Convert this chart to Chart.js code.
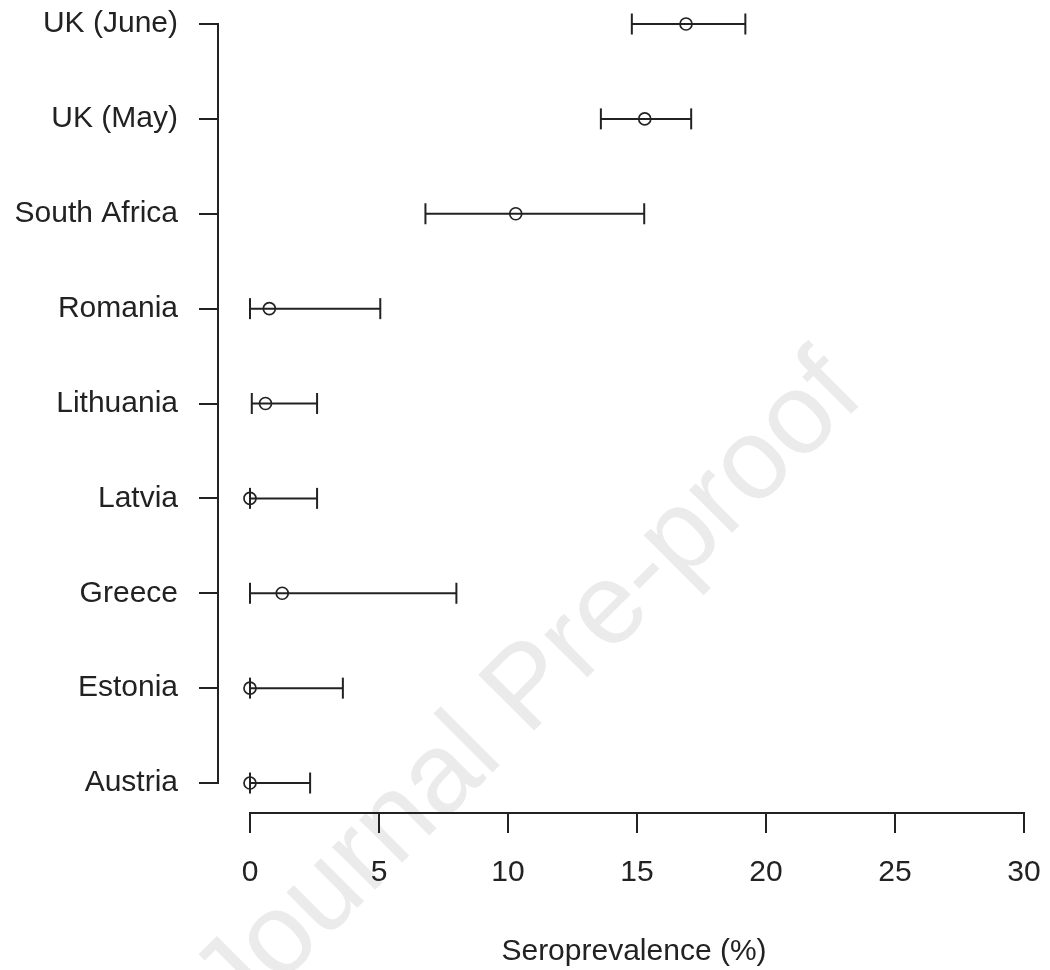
<!DOCTYPE html>
<html>
<head>
<meta charset="utf-8">
<script src="https://cdn.jsdelivr.net/npm/chart.js@4"></script>
<style>
  html, body { margin: 0; padding: 0; background: #ffffff; }
  #wrap { width: 1050px; height: 970px; position: relative; }
</style>
</head>
<body>
<div id="wrap"><canvas id="c" width="1050" height="970"></canvas></div>
<script>
// Categories from bottom (y = 1) to top (y = 9)
const categories = ['Austria', 'Estonia', 'Greece', 'Latvia', 'Lithuania', 'Romania', 'South Africa', 'UK (May)', 'UK (June)'];
const estimates  = [0, 0, 1.25, 0, 0.6, 0.75, 10.3, 15.3, 16.9];
const lowerCI    = [0, 0, 0, 0, 0.07, 0, 6.8, 13.6, 14.8];
const upperCI    = [2.33, 3.6, 8.0, 2.6, 2.6, 5.05, 15.28, 17.1, 19.2];
const xTicks     = [0, 5, 10, 15, 20, 25, 30];
const xTitle     = 'Seroprevalence (%)';
const watermark  = 'Journal Pre-proof';

const INK = '#222222';
const FONT = "'Liberation Sans', Arial, sans-serif";

const rangeDatasets = categories.map((c, i) => ({
  type: 'scatter',
  label: c + ' CI',
  data: [{ x: lowerCI[i], y: i + 1 }, { x: upperCI[i], y: i + 1 }],
  showLine: true,
  borderColor: INK,
  borderWidth: 2,
  pointRadius: 0,
  clip: false
}));

const capData = [];
categories.forEach((c, i) => {
  capData.push({ x: lowerCI[i], y: i + 1 });
  capData.push({ x: upperCI[i], y: i + 1 });
});

const pointData = categories.map((c, i) => ({ x: estimates[i], y: i + 1 }));

const watermarkPlugin = {
  id: 'watermark',
  beforeDraw(chart) {
    const ctx = chart.ctx;
    ctx.save();
    ctx.translate(530, 690);
    ctx.rotate(-45 * Math.PI / 180);
    ctx.font = '115px ' + FONT;
    ctx.fillStyle = '#ebebeb';
    ctx.textAlign = 'center';
    ctx.textBaseline = 'middle';
    ctx.fillText(watermark, 0, 0);
    ctx.restore();
  }
};

const axisLinePlugin = {
  id: 'rAxisLines',
  afterDraw(chart) {
    const ctx = chart.ctx;
    const xs = chart.scales.x, ys = chart.scales.y;
    const area = chart.chartArea;
    ctx.save();
    ctx.strokeStyle = INK;
    ctx.lineWidth = 2;
    ctx.lineCap = 'square';
    ctx.beginPath();
    ctx.moveTo(xs.getPixelForValue(xTicks[0]), area.bottom);
    ctx.lineTo(xs.getPixelForValue(xTicks[xTicks.length - 1]), area.bottom);
    ctx.moveTo(area.left, ys.getPixelForValue(categories.length));
    ctx.lineTo(area.left, ys.getPixelForValue(1));
    ctx.stroke();
    ctx.restore();
  }
};

function zeroPad(s) {
  s.paddingLeft = 0; s.paddingRight = 0; s.paddingTop = 0; s.paddingBottom = 0;
}

new Chart(document.getElementById('c'), {
  type: 'scatter',
  data: {
    datasets: [
      {
        label: 'Estimate',
        data: pointData,
        pointStyle: 'circle',
        pointRadius: 6,
        pointHoverRadius: 6,
        borderColor: INK,
        borderWidth: 1.7,
        backgroundColor: 'rgba(0,0,0,0)',
        clip: false
      },
      {
        label: 'Caps',
        data: capData,
        pointStyle: 'line',
        rotation: 90,
        pointRadius: 10.5,
        pointHoverRadius: 10.5,
        borderColor: INK,
        borderWidth: 2,
        clip: false
      },
      ...rangeDatasets
    ]
  },
  options: {
    responsive: false,
    animation: false,
    devicePixelRatio: 1,
    layout: { padding: 0, autoPadding: false },
    plugins: {
      legend: { display: false },
      tooltip: { enabled: false },
      title: { display: false }
    },
    scales: {
      x: {
        type: 'linear',
        min: -1.24,
        max: 31.008,
        afterBuildTicks(s) { s.ticks = xTicks.map(v => ({ value: v })); },
        afterFit(s) { s.height = 157; zeroPad(s); },
        grid: { display: true, drawOnChartArea: false, drawTicks: true, tickLength: 20, color: INK, lineWidth: 2 },
        border: { display: false },
        ticks: { font: { size: 30, family: FONT }, color: INK, padding: 22, maxRotation: 0, autoSkip: false },
        title: { display: true, text: xTitle, font: { size: 30, family: FONT }, color: INK, padding: { top: 0, bottom: 0 } }
      },
      y: {
        type: 'linear',
        min: 0.684,
        max: 9.253,
        afterBuildTicks(s) { s.ticks = categories.map((c, i) => ({ value: i + 1 })); },
        afterFit(s) { s.width = 218; zeroPad(s); },
        grid: { display: true, drawOnChartArea: false, drawTicks: true, tickLength: 19, color: INK, lineWidth: 2 },
        border: { display: false },
        ticks: {
          font: { size: 30, family: FONT }, color: INK, padding: 21, autoSkip: false,
          callback: (v) => categories[Math.round(v) - 1]
        }
      }
    }
  },
  plugins: [watermarkPlugin, axisLinePlugin]
});
</script>
</body>
</html>
